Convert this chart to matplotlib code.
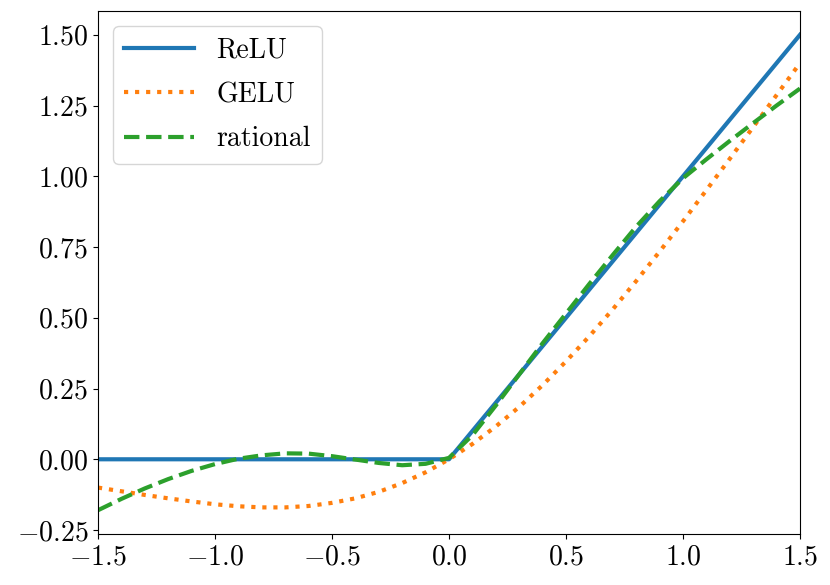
import matplotlib
matplotlib.use("Agg")
import matplotlib.pyplot as plt
from matplotlib.ticker import FuncFormatter, MultipleLocator

plt.rcParams['mathtext.fontset'] = 'cm'
plt.rcParams['font.family'] = ['cmr10', 'DejaVu Serif']

x_vals = [-1.5, -1.4, -1.3, -1.2, -1.1, -1.0, -0.9, -0.8, -0.7, -0.6, -0.5,
          -0.4, -0.3, -0.2, -0.1, 0.0, 0.1, 0.2, 0.3, 0.4, 0.5,
          0.6, 0.7, 0.8, 0.9, 1.0, 1.1, 1.2, 1.3, 1.4, 1.5]

relu_x = [-1.5, 0.0, 1.5]
relu_y = [0.0, 0.0, 1.5]

gelu_y = [-0.100, -0.113, -0.126, -0.138, -0.149, -0.159, -0.166, -0.170, -0.170,
          -0.165, -0.154, -0.138, -0.115, -0.084, -0.046, 0.000, 0.054, 0.116,
          0.185, 0.262, 0.346, 0.435, 0.530, 0.630, 0.734, 0.841, 0.951, 1.062,
          1.174, 1.287, 1.400]

rational_y = [-0.180, -0.140, -0.103, -0.070, -0.041, -0.017, 0.002, 0.014, 0.021,
              0.020, 0.011, -0.001, -0.013, -0.021, -0.016, 0.005, 0.085, 0.190,
              0.300, 0.410, 0.515, 0.620, 0.722, 0.822, 0.912, 0.993, 1.060, 1.125,
              1.188, 1.250, 1.310]

labels = ['ReLU', 'GELU', 'rational']

fig = plt.figure(figsize=(8.3, 5.85), dpi=100)
ax = fig.add_axes([98/830, 1-534/585, (800-98)/830, (534-11)/585])

ax.plot(relu_x, relu_y, color='#1f77b4', lw=3, ls='-', label=labels[0])
ax.plot(x_vals, gelu_y, color='#ff7f0e', lw=3, ls=':', label=labels[1])
ax.plot(x_vals, rational_y, color='#2ca02c', lw=3, ls='--', label=labels[2])

ax.set_xlim(-1.5, 1.5)
ax.xaxis.set_major_locator(MultipleLocator(0.5))
ax.yaxis.set_major_locator(MultipleLocator(0.25))
ax.xaxis.set_major_formatter(FuncFormatter(lambda v, p: r'$%.1f$' % v))
ax.yaxis.set_major_formatter(FuncFormatter(lambda v, p: r'$%.2f$' % v))
ax.tick_params(labelsize=20)

leg = ax.legend(loc='upper left', handlelength=2.5, labelspacing=0.65,
                borderaxespad=0.55, prop={'family': 'cmr10', 'size': 20})

fig.savefig('out.png', dpi=100)
